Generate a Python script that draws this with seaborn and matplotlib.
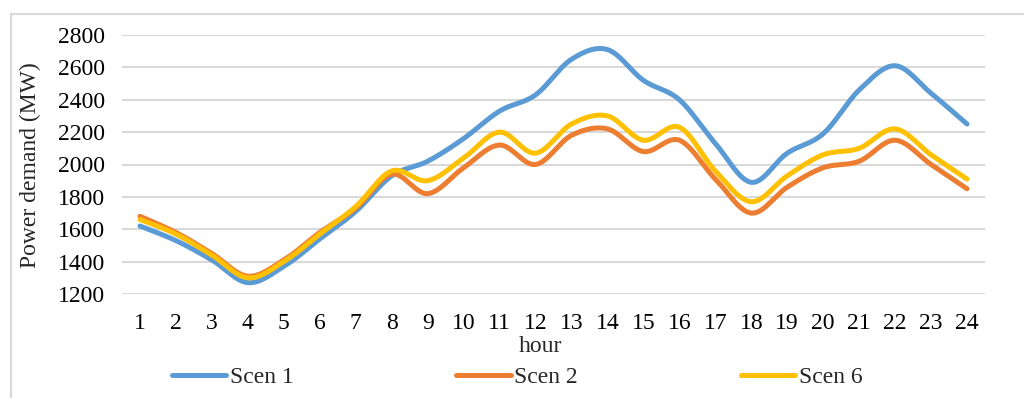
import numpy as np
import pandas as pd
import seaborn as sns
import matplotlib.pyplot as plt
from matplotlib.patches import Rectangle

# hourly power demand (MW)
hours = list(range(1, 25))
scen1 = [1620, 1530, 1410, 1270, 1370, 1540, 1710, 1930, 2020, 2160, 2330, 2430,
         2650, 2710, 2520, 2400, 2130, 1890, 2070, 2190, 2460, 2610, 2440, 2250]
scen2 = [1680, 1580, 1450, 1310, 1410, 1580, 1730, 1940, 1820, 1980, 2120, 2000,
         2180, 2220, 2080, 2150, 1910, 1700, 1860, 1980, 2020, 2150, 2000, 1850]
scen6 = [1660, 1570, 1440, 1300, 1400, 1570, 1740, 1960, 1900, 2040, 2200, 2070,
         2250, 2300, 2150, 2230, 1960, 1770, 1930, 2060, 2100, 2220, 2060, 1910]
series_names = ['Scen 1', 'Scen 2', 'Scen 6']
colors = ['#5B9BD5', '#ED7D31', '#FFC000']
y_ticks = [1200, 1400, 1600, 1800, 2000, 2200, 2400, 2600, 2800]


def smooth(x, y, n=30):
    """Excel-style smoothed line (Catmull-Rom bezier through the points)."""
    x = np.asarray(x, float)
    y = np.asarray(y, float)
    px = np.concatenate([[x[0]], x, [x[-1]]])
    py = np.concatenate([[y[0]], y, [y[-1]]])
    t = np.linspace(0, 1, n)[:, None]
    xs, ys = [], []
    for i in range(1, len(px) - 2):
        p0 = np.array([px[i], py[i]])
        p3 = np.array([px[i + 1], py[i + 1]])
        c1 = p0 + (np.array([px[i + 1], py[i + 1]]) - np.array([px[i - 1], py[i - 1]])) / 6
        c2 = p3 - (np.array([px[i + 2], py[i + 2]]) - p0) / 6
        b = ((1 - t) ** 3) * p0 + 3 * ((1 - t) ** 2) * t * c1 + 3 * (1 - t) * t ** 2 * c2 + t ** 3 * p3
        xs.append(b[:, 0])
        ys.append(b[:, 1])
    return np.concatenate(xs), np.concatenate(ys)


frames = []
for name, vals in zip(series_names, [scen1, scen2, scen6]):
    sx, sy = smooth(hours, vals)
    frames.append(pd.DataFrame({'hour': sx, 'demand': sy, 'scenario': name}))
df = pd.concat(frames, ignore_index=True)

sns.set_theme(style='white')
plt.rcParams['font.family'] = ['Liberation Serif', 'DejaVu Serif']

fig = plt.figure(figsize=(10.24, 3.98), dpi=100)
ax = fig.add_axes([122 / 1024, 1 - 294 / 398, (985 - 122) / 1024, (294 - 35) / 398])

sns.lineplot(data=df, x='hour', y='demand', hue='scenario', palette=colors,
             sort=False, estimator=None, linewidth=3.6, ax=ax, legend=False)
for line in ax.get_lines():
    line.set_solid_capstyle('round')

ax.set_xlim(0.5, 24.5)
ax.set_ylim(1200, 2800)
ax.set_xticks(hours)
ax.set_yticks(y_ticks)
ax.tick_params(axis='both', labelsize=17, length=0, colors='black')
ax.tick_params(axis='x', pad=14)
ax.tick_params(axis='y', pad=12)
ax.grid(axis='y', color='#D9D9D9', linewidth=1.5)
ax.set_axisbelow(True)
for s in ax.spines.values():
    s.set_visible(False)
ax.set_xlabel('')
ax.set_ylabel('')

fig.text(540 / 1024, 1 - 347 / 398, 'hour', ha='center', va='center', fontsize=17)
fig.text(30 / 1024, 1 - 165 / 398, 'Power demand (MW)', ha='center', va='center',
         rotation=90, fontsize=17)

handles = [plt.Line2D([], [], color=c, linewidth=3.6, solid_capstyle='round') for c in colors]
fig.legend(handles, series_names, loc='center', bbox_to_anchor=(517 / 1024, 1 - 377 / 398),
           ncol=3, frameon=False, fontsize=17, handlelength=2.3, handletextpad=0.15,
           columnspacing=6.9, borderaxespad=0)

# light chart-area border (cut at right and bottom like the source)
fig.patches.append(Rectangle((10.5 / 1024, -0.1), 1.2, 0.1 + 1 - 13.5 / 398,
                             transform=fig.transFigure, fill=False,
                             edgecolor='#D9D9D9', linewidth=1.5))

fig.savefig('out.png', dpi=100)
